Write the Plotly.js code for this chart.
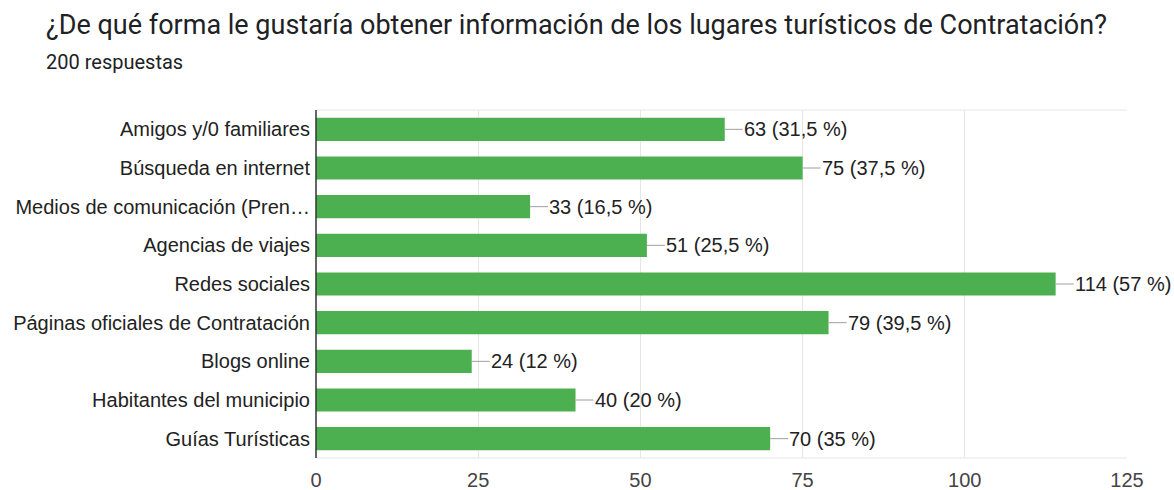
<!DOCTYPE html>
<html>
<head>
<meta charset="utf-8">
<script src="https://cdn.plot.ly/plotly-3.0.1.min.js"></script>
<style>
html,body{margin:0;padding:0;background:#fff;}
#chart{width:1174px;height:490px;}
</style>
</head>
<body>
<div id="chart"></div>
<script>
const categories = [
  "Amigos y/0 familiares",
  "Búsqueda en internet",
  "Medios de comunicación (Pren…",
  "Agencias de viajes",
  "Redes sociales",
  "Páginas oficiales de Contratación",
  "Blogs online",
  "Habitantes del municipio",
  "Guías Turísticas"
];
const counts = [63, 75, 33, 51, 114, 79, 24, 40, 70];
const valueLabels = ["63 (31,5 %)", "75 (37,5 %)", "33 (16,5 %)", "51 (25,5 %)", "114 (57 %)", "79 (39,5 %)", "24 (12 %)", "40 (20 %)", "70 (35 %)"];
const tickValues = [0, 25, 50, 75, 100, 125];
const titleText = "¿De qué forma le gustaría obtener información de los lugares turísticos de Contratación?";
const subtitleText = "200 respuestas";

const trace = {
  type: 'bar',
  orientation: 'h',
  x: counts,
  y: categories,
  marker: {color: '#4caf50', line: {width: 0}},
  hoverinfo: 'none'
};

const annotations = categories.map((c, i) => ({
  x: counts[i], y: c, xref: 'x', yref: 'y',
  text: valueLabels[i],
  showarrow: true, arrowhead: 0, arrowwidth: 1, arrowcolor: '#9e9e9e',
  ax: 18, ay: 0, standoff: 0, startstandoff: 0,
  xanchor: 'left', yanchor: 'middle', borderpad: 0,
  font: {family: 'Arial, Liberation Sans, sans-serif', size: 20, color: '#222222'}
}));

annotations.push({
  xref: 'paper', yref: 'paper', x: -0.3354, y: 1.245, xanchor: 'left', yanchor: 'middle',
  text: titleText, showarrow: false,
  font: {family: 'Roboto, sans-serif', size: 27, color: '#202124'}
});
annotations.push({
  xref: 'paper', yref: 'paper', x: -0.3354, y: 1.138, xanchor: 'left', yanchor: 'middle',
  text: subtitleText, showarrow: false,
  font: {family: 'Roboto, sans-serif', size: 20, color: '#202124'}
});

const layout = {
  width: 1174, height: 490,
  margin: {l: 316, r: 47, t: 110, b: 32, pad: 0},
  paper_bgcolor: '#ffffff', plot_bgcolor: '#ffffff',
  showlegend: false,
  bargap: 0.4,
  xaxis: {
    range: [0, 125], tickvals: tickValues, ticktext: tickValues.map(String),
    showgrid: true, gridcolor: '#e6e6e6', gridwidth: 1, zeroline: false,
    showline: false, ticks: 'outside', ticklen: 4, tickcolor: 'rgba(0,0,0,0)',
    tickfont: {family: 'Arial, Liberation Sans, sans-serif', size: 20, color: '#444444'},
    fixedrange: true
  },
  yaxis: {
    autorange: 'reversed', showgrid: false, zeroline: false,
    showline: false, ticks: 'outside', ticklen: 1, tickcolor: 'rgba(0,0,0,0)',
    tickfont: {family: 'Arial, Liberation Sans, sans-serif', size: 20, color: '#222222'},
    fixedrange: true
  },
  shapes: [
    {type: 'line', xref: 'paper', yref: 'paper', x0: 0, x1: 1, y0: 1, y1: 1, line: {color: '#e6e6e6', width: 1}},
    {type: 'line', xref: 'paper', yref: 'paper', x0: 0, x1: 1, y0: 0, y1: 0, line: {color: '#e6e6e6', width: 1}},
    {type: 'line', xref: 'paper', yref: 'paper', x0: 0, x1: 0, y0: 0, y1: 1, line: {color: '#333333', width: 1.5}}
  ],
  annotations: annotations
};

Plotly.newPlot('chart', [trace], layout, {displayModeBar: false, staticPlot: true});
</script>
</body>
</html>
